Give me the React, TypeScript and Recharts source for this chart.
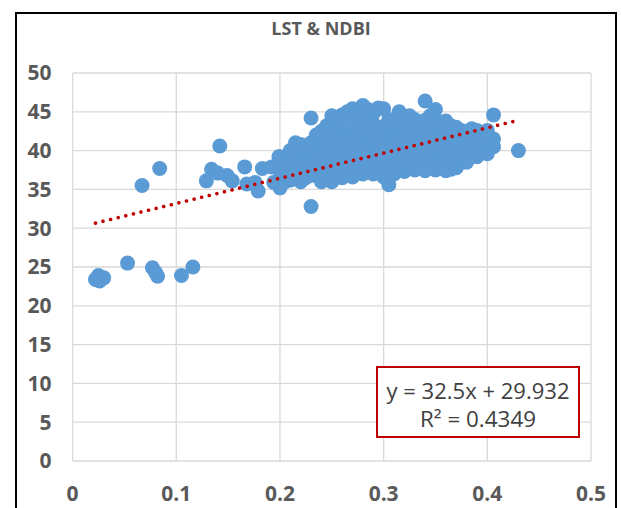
import React from 'react';
import { ScatterChart, Scatter, XAxis, YAxis, CartesianGrid } from 'recharts';

const TITLE = 'LST & NDBI';
const X_TICKS = [0, 0.1, 0.2, 0.3, 0.4, 0.5];
const Y_TICKS = [0, 5, 10, 15, 20, 25, 30, 35, 40, 45, 50];
const SLOPE = 32.5;
const INTERCEPT = 29.932;
const TREND_X = [0.022, 0.428];
const EQ_LINE1 = 'y = 32.5x + 29.932';
const EQ_LINE2 = 'R\u00B2 = 0.4349';

// NDBI (x) values and LST (y) values
const NDBI: number[] = [];
const LST: number[] = [];

const lowGroup: [number, number][] = [
  [0.022, 23.4], [0.025, 23.9], [0.028, 23.5], [0.026, 23.2], [0.030, 23.6],
  [0.053, 25.5], [0.077, 24.9], [0.080, 24.3], [0.082, 23.8],
  [0.105, 23.9], [0.116, 25.0],
];
const midGroup: [number, number][] = [
  [0.067, 35.5], [0.084, 37.7],
  [0.129, 36.1], [0.134, 37.6], [0.140, 37.1], [0.149, 36.8], [0.154, 36.1], [0.142, 40.6],
  [0.166, 37.9], [0.168, 35.7], [0.179, 34.8], [0.183, 37.7], [0.176, 35.9],
  [0.192, 37.9], [0.194, 35.9], [0.199, 39.2],
];
const cloudColumns: [number, number[]][] = [
  [0.200, [35.2, 36.5, 37.8, 39.2]],
  [0.205, [36.0, 38.5]],
  [0.210, [36.2, 37.5, 38.8, 40.0]],
  [0.215, [36.8, 39.5, 41.0]],
  [0.220, [36.0, 37.3, 38.6, 40.8]],
  [0.225, [36.5, 38.0, 39.5]],
  [0.230, [32.8, 36.8, 38.2, 39.6, 41.0, 44.2]],
  [0.235, [37.5, 40.3, 42.0]],
  [0.240, [36.0, 37.3, 38.6, 40.0, 41.3, 42.5]],
  [0.245, [36.5, 39.0, 41.8, 43.2]],
  [0.250, [36.0, 37.4, 38.8, 40.2, 41.6, 43.0, 44.5]],
  [0.255, [37.0, 39.5, 42.3, 44.0]],
  [0.260, [36.5, 37.8, 39.1, 40.4, 41.7, 43.0, 44.6]],
  [0.265, [38.0, 40.8, 42.5, 45.0]],
  [0.270, [36.6, 37.9, 39.2, 40.5, 41.8, 43.1, 44.4, 45.4]],
  [0.275, [37.2, 39.8, 42.6, 44.8]],
  [0.280, [37.0, 38.3, 39.6, 40.9, 42.2, 43.5, 44.8, 45.8]],
  [0.285, [37.6, 40.2, 43.0, 45.3]],
  [0.290, [37.0, 38.3, 39.6, 40.9, 42.2, 43.5, 44.8]],
  [0.295, [37.8, 41.0, 45.5]],
  [0.300, [36.6, 37.9, 39.2, 40.5, 41.8, 43.1, 45.4]],
  [0.305, [35.6, 38.5, 42.0, 44.0]],
  [0.310, [37.0, 38.3, 39.6, 40.9, 42.2, 43.5]],
  [0.315, [37.8, 41.0, 44.5, 45.0]],
  [0.320, [37.3, 38.6, 39.9, 41.2, 42.5, 43.8]],
  [0.325, [38.0, 40.5, 43.0, 44.5]],
  [0.330, [37.5, 38.8, 40.1, 41.4, 42.7, 44.0]],
  [0.335, [38.2, 40.8, 43.4]],
  [0.340, [37.4, 38.7, 40.0, 41.3, 42.6, 43.9, 46.4]],
  [0.345, [38.0, 40.6, 43.0, 44.5]],
  [0.350, [37.5, 38.8, 40.1, 41.4, 42.7, 44.0, 45.3]],
  [0.355, [38.3, 40.8, 43.3]],
  [0.360, [37.4, 38.7, 40.0, 41.3, 42.6, 43.8]],
  [0.365, [37.6, 39.2, 41.8, 43.2]],
  [0.370, [37.8, 39.1, 40.4, 41.7, 43.0]],
  [0.375, [38.5, 40.8, 42.6]],
  [0.380, [38.5, 39.8, 41.1, 42.4]],
  [0.385, [39.3, 41.6, 42.8]],
  [0.390, [39.2, 40.5, 41.8, 42.6]],
  [0.395, [39.8, 41.2]],
  [0.400, [39.6, 40.9, 42.6]],
  [0.406, [40.5, 41.5, 44.6]],
  [0.430, [40.0]],
];

lowGroup.forEach(([x, y]) => { NDBI.push(x); LST.push(y); });
midGroup.forEach(([x, y]) => { NDBI.push(x); LST.push(y); });
cloudColumns.forEach(([x, ys]) => ys.forEach((y) => { NDBI.push(x); LST.push(y); }));

const data = NDBI.map((x, i) => ({ x, y: LST[i] }));
const trendData = TREND_X.map((x) => ({ x, y: SLOPE * x + INTERCEPT }));

const TEXT_GREY = '#595959';
const FONT = '"Open Sans", "Liberation Sans", sans-serif';

const XTick = (props: any) => (
  <text x={props.x} y={props.y} dy="0.35em" textAnchor="middle" fill={TEXT_GREY}
    fontFamily={FONT} fontSize={21} fontWeight={700}>{String(props.payload.value)}</text>
);
const YTick = (props: any) => (
  <text x={props.x} y={props.y} dy="0.35em" textAnchor="end" fill={TEXT_GREY}
    fontFamily={FONT} fontSize={21} fontWeight={700}>{String(props.payload.value)}</text>
);

const Dot = (props: any) => <circle cx={props.cx} cy={props.cy} r={7.5} fill="#5B9BD5" />;
const NoDot = () => <g />;

export default function App() {
  return (
    <div style={{ position: 'absolute', left: 0, top: 0, width: 621, height: 508, background: '#fff', overflow: 'hidden' }}>
      <div style={{ position: 'absolute', left: 15, top: 12, width: 598, height: 520, border: '2px solid #000' }} />
      <div style={{ position: 'absolute', left: 0, top: 0 }}>
        <ScatterChart width={621} height={508} margin={{ top: 73, right: 30, bottom: 0, left: 0 }}>
          <text x={321} y={29} dy="0.35em" textAnchor="middle" fill={TEXT_GREY} fontFamily={FONT} fontSize={18} fontWeight={700}>{TITLE}</text>
          <CartesianGrid stroke="#D9D9D9" strokeWidth={1.3} />
          <XAxis type="number" dataKey="x" domain={[0, 0.5]} ticks={X_TICKS} axisLine={false} tickLine={false}
            tickSize={0} tickMargin={33} height={47} tick={<XTick />} interval={0} />
          <YAxis type="number" dataKey="y" domain={[0, 50]} ticks={Y_TICKS} axisLine={false} tickLine={false}
            tickSize={0} tickMargin={21} width={72.6} tick={<YTick />} interval={0} />
          <Scatter data={data} shape={<Dot />} isAnimationActive={false} />
          <Scatter data={trendData} shape={<NoDot />} isAnimationActive={false}
            line={{ stroke: '#C00000', strokeWidth: 3.6, strokeDasharray: '0.01 7.8', strokeLinecap: 'round' }} />
        </ScatterChart>
      </div>
      <svg style={{ position: 'absolute', left: 0, top: 0 }} width={621} height={508}>
        <rect x={377} y={367} width={202} height={70} fill="#fff" stroke="#C00000" strokeWidth={2} />
        <text x={478} y={399} textAnchor="middle" fill="#404040" fontFamily={FONT} fontSize={21}
          textLength={183} lengthAdjust="spacingAndGlyphs">{EQ_LINE1}</text>
        <text x={478} y={427} textAnchor="middle" fill="#404040" fontFamily={FONT} fontSize={21}
          textLength={116} lengthAdjust="spacingAndGlyphs">{EQ_LINE2}</text>
      </svg>
    </div>
  );
}
